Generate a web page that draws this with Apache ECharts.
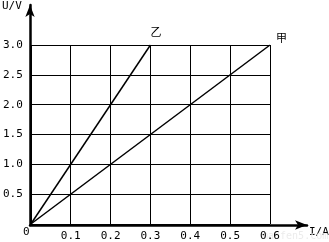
<!DOCTYPE html>
<html><head><meta charset="utf-8">
<script src="https://cdn.jsdelivr.net/npm/echarts@6/dist/echarts.min.js"></script>
<style>html,body{margin:0;padding:0;background:#fff}#c{width:329px;height:242px}</style>
</head><body><div id="c"></div>
<script>
const xTicks = [0, 0.1, 0.2, 0.3, 0.4, 0.5, 0.6];
const yTicks = [0, 0.5, 1.0, 1.5, 2.0, 2.5, 3.0];
const currentJia = [0, 0.6];
const voltageJia = [0, 3.0];
const currentYi = [0, 0.3];
const voltageYi = [0, 3.0];
const nameJia = '甲';
const nameYi = '乙';

const font = 'DejaVu Sans Mono';
const chart = echarts.init(document.getElementById('c'));
function pairs(xs, ys){ return xs.map((x,i)=>[x, ys[i]]); }
chart.setOption({
  animation: false,
  backgroundColor: '#fff',
  grid: [
    {left: 30, top: 45, width: 240, height: 180},
    {left: 30, top: 5, width: 277, height: 220}
  ],
  xAxis: [
    {gridIndex: 0, type: 'value', min: xTicks[0], max: xTicks[xTicks.length-1], interval: 0.1,
     axisLine: {show: false}, axisTick: {show: false},
     splitLine: {show: true, lineStyle: {color: '#000', width: 1}},
     axisLabel: {margin: 7, color: '#000', fontFamily: font, fontSize: 11, showMinLabel: false,
       formatter: v => v.toFixed(1)}},
    {gridIndex: 1, type: 'value', min: 0, max: 1, axisLabel: {show: false}, axisTick: {show: false},
     splitLine: {show: false},
     axisLine: {show: true, symbol: ['none', 'arrow'], symbolSize: [7, 12], lineStyle: {color: '#000', width: 2.5}}}
  ],
  yAxis: [
    {gridIndex: 0, type: 'value', min: yTicks[0], max: yTicks[yTicks.length-1], interval: 0.5,
     axisLine: {show: false}, axisTick: {show: false},
     splitLine: {show: true, lineStyle: {color: '#000', width: 1}},
     axisLabel: {margin: 8, color: '#000', fontFamily: font, fontSize: 11, showMinLabel: false,
       formatter: v => v.toFixed(1)}},
    {gridIndex: 1, type: 'value', min: 0, max: 1, axisLabel: {show: false}, axisTick: {show: false},
     splitLine: {show: false},
     axisLine: {show: true, symbol: ['none', 'arrow'], symbolSize: [7, 12], lineStyle: {color: '#000', width: 2.5}}}
  ],
  graphic: [
    {type: 'text', left: 2, top: 1, style: {text: 'U/V', fill: '#000', font: '11px ' + font}},
    {type: 'text', left: 309, top: 227, style: {text: 'I/A', fill: '#000', font: '11px ' + font}},
    {type: 'text', left: 23, top: 227, style: {text: '0', fill: '#000', font: '11px ' + font}},
    {type: 'text', left: 262, top: 231, style: {text: 'manfen5.com', fill: '#ececec', font: '10px ' + font}}
  ],
  series: [
    {type: 'line', xAxisIndex: 0, yAxisIndex: 0, data: pairs(currentYi, voltageYi), symbol: 'none',
     lineStyle: {color: '#000', width: 1.5},
     endLabel: {show: true, formatter: nameYi, color: '#000', fontSize: 11, fontFamily: 'Noto Sans CJK SC', offset: [-8, -13]}},
    {type: 'line', xAxisIndex: 0, yAxisIndex: 0, data: pairs(currentJia, voltageJia), symbol: 'none',
     lineStyle: {color: '#000', width: 1.5},
     endLabel: {show: true, formatter: nameJia, color: '#000', fontSize: 11, fontFamily: 'Noto Sans CJK SC', offset: [-2, -7]}}
  ]
});
</script></body></html>
